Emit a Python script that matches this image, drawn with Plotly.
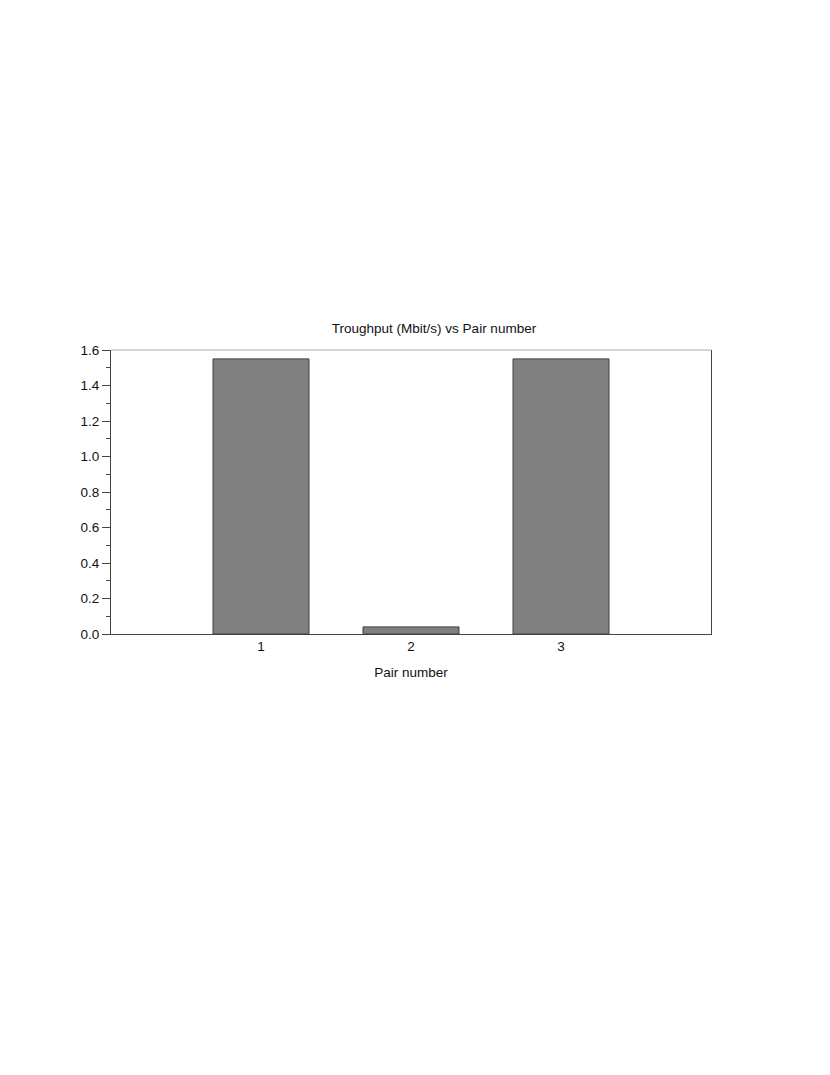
import plotly.graph_objects as go

pairs = [1, 2, 3]
throughput = [1.55, 0.04, 1.55]

fig = go.Figure(go.Bar(
    x=pairs, y=throughput,
    width=0.64,
    marker=dict(color="#808080", line=dict(color="#404040", width=1)),
    hovertemplate="Pair %{x}: %{y:.2f} Mbit/s<extra></extra>",
))

font = dict(family="Liberation Sans, Arial, sans-serif", size=13.5, color="#111")

fig.update_xaxes(
    range=[0, 4], tickvals=pairs, ticks="", showgrid=False, zeroline=False,
    showline=True, linecolor="#444", linewidth=1,
    title=dict(text="Pair number", font=font, standoff=14), tickfont=font,
)
fig.update_yaxes(
    range=[0, 1.6], dtick=0.2, tickformat=".1f", ticks="outside", ticklen=8,
    tickcolor="#444", showgrid=False, zeroline=False,
    showline=True, mirror=True, linecolor="#444", linewidth=1, tickfont=font,
    minor=dict(dtick=0.1, ticks="outside", ticklen=4, tickcolor="#444", showgrid=False),
)

# lighter top frame line
fig.add_shape(type="line", xref="paper", yref="paper", x0=0, x1=1, y0=1, y1=1,
              line=dict(color="#aaaaaa", width=1))

# page body has an 8px default margin, so offsets are shifted by 8
fig.update_layout(
    width=830, height=1075,
    margin=dict(l=103, r=127, t=342, b=449),
    paper_bgcolor="white", plot_bgcolor="white",
    font=font,
    title=dict(text="Troughput (Mbit/s) vs Pair number", font=font,
               x=426 / 830, xanchor="center", xref="container",
               y=1 - 320 / 1075, yanchor="middle", yref="container"),
    showlegend=False,
)

fig.write_html("out.html")
